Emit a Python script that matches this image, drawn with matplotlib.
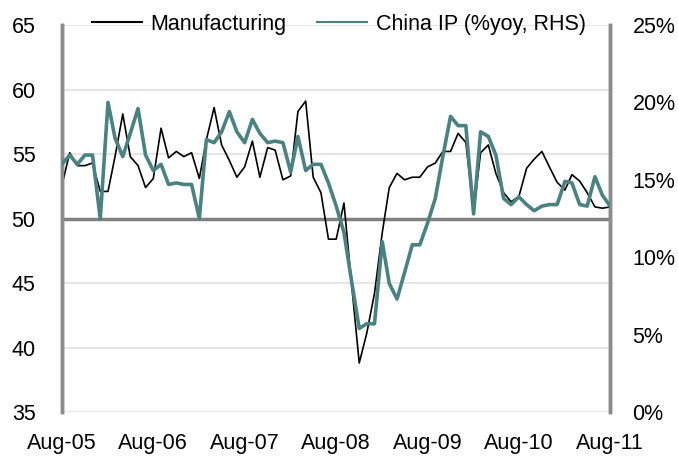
import matplotlib
matplotlib.use("Agg")
import matplotlib.pyplot as plt
import matplotlib.dates as mdates
from matplotlib.ticker import FuncFormatter
import pandas as pd

plt.rcParams['font.family'] = ['Liberation Sans', 'DejaVu Sans']

months = pd.date_range("2005-08-01", periods=73, freq="MS")

manufacturing = [
    52.6, 55.1, 54.1, 54.1, 54.3, 52.1, 52.1, 54.8, 58.1, 54.8,
    54.1, 52.4, 53.1, 57.0, 54.7, 55.2, 54.8, 55.1, 53.1, 56.1,
    58.6, 55.7, 54.5, 53.2, 54.0, 56.0, 53.2, 55.5, 55.3, 53.0,
    53.3, 58.3, 59.1, 53.2, 52.0, 48.4, 48.4, 51.2, 45.0, 38.8,
    41.1, 44.2, 48.9, 52.4, 53.5, 53.0, 53.2, 53.2, 54.0, 54.3,
    55.2, 55.2, 56.6, 55.9, 50.5, 55.1, 55.7, 53.5, 52.0, 51.3,
    51.7, 53.9, 54.6, 55.2, 54.0, 52.8, 52.2, 53.4, 52.9, 52.0,
    50.9, 50.8, 50.9,
]

china_ip = [
    16.0, 16.6, 16.0, 16.6, 16.6, 12.5, 20.0, 17.7, 16.5, 18.0,
    19.6, 16.6, 15.6, 16.0, 14.7, 14.8, 14.7, 14.7, 12.5, 17.6,
    17.4, 18.1, 19.4, 18.1, 17.4, 18.9, 18.0, 17.4, 17.5, 17.4,
    15.5, 17.8, 15.6, 16.0, 16.0, 14.8, 13.3, 11.6, 8.5, 5.4,
    5.7, 5.7, 11.0, 8.3, 7.3, 9.0, 10.8, 10.8, 12.2, 13.8,
    16.5, 19.1, 18.5, 18.5, 12.8, 18.1, 17.8, 16.6, 13.8, 13.4,
    13.9, 13.4, 13.0, 13.3, 13.4, 13.4, 14.9, 14.8, 13.4, 13.3,
    15.2, 14.0, 13.3,
]

left_ticks = [35, 40, 45, 50, 55, 60, 65]
right_ticks = [0, 5, 10, 15, 20, 25]

teal = "#4A8282"
spine_grey = "#8C8C8C"
fs = 15.5

fig = plt.figure(figsize=(6.78, 4.59), dpi=100)
ax = fig.add_axes([0.0914, 0.1024, 0.8086, 0.8431])
ax2 = ax.twinx()

# gridlines, 50 line acts as the axis
for v in left_ticks:
    if v == 50:
        continue
    ax.axhline(v, color="#E6E6E6", lw=1.5, zorder=0)
ax.axhline(50, color="#808080", lw=2.5, zorder=1)

l1, = ax.plot(months, manufacturing, color="black", lw=1.2, zorder=3)
l2, = ax2.plot(months, china_ip, color=teal, lw=2.6, zorder=3)

ax.set_xlim(months[0], months[-1])
ax.set_ylim(35, 65)
ax2.set_ylim(0, 25)
ax.set_yticks(left_ticks)
ax2.set_yticks(right_ticks)
ax2.yaxis.set_major_formatter(FuncFormatter(lambda v, p: f"{v:.0f}%"))

ax.xaxis.set_major_locator(mdates.MonthLocator(bymonth=8))
ax.xaxis.set_major_formatter(mdates.DateFormatter("%b-%y"))

for a in (ax, ax2):
    for s in ("top", "bottom"):
        a.spines[s].set_visible(False)
    a.spines["left"].set_color(spine_grey)
    a.spines["right"].set_color(spine_grey)
    a.spines["left"].set_linewidth(2.5)
    a.spines["right"].set_linewidth(2.5)
    a.tick_params(length=0, labelsize=fs)

ax.tick_params(axis="y", pad=19)
ax2.tick_params(axis="y", pad=16)
ax.tick_params(axis="x", pad=15)

leg = ax2.legend([l1, l2], ["Manufacturing", "China IP (%yoy, RHS)"],
                 loc="lower center", bbox_to_anchor=(0.505, 0.975), ncol=2,
                 frameon=False, fontsize=fs, handlelength=2.3,
                 columnspacing=1.45, handletextpad=0.4, borderaxespad=0,
                 borderpad=0)
for h in leg.legend_handles:
    h.set_linewidth(1.5)

fig.savefig("out.png", dpi=100)
